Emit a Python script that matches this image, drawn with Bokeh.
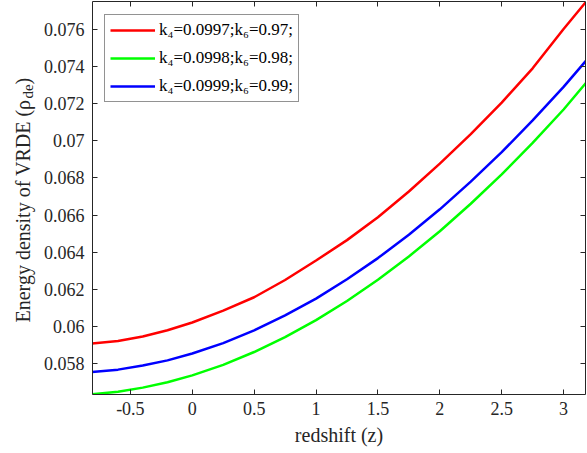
from bokeh.plotting import figure
from bokeh.layouts import row
from bokeh.models import Range1d, FixedTicker, LinearAxis, Legend, LegendItem, Label
from bokeh.embed import file_html
from bokeh.resources import INLINE

# ---- data ----
z = [-0.81, -0.6, -0.4, -0.2, 0.0, 0.25, 0.5, 0.75, 1.0, 1.25, 1.5, 1.75, 2.0, 2.25, 2.5, 2.75, 3.0, 3.18]
rho_k097 = [0.05908, 0.05921, 0.05946, 0.05979, 0.06021, 0.06085, 0.06157, 0.06250, 0.06355, 0.06465,
            0.06588, 0.06727, 0.06877, 0.07036, 0.07206, 0.07391, 0.07603, 0.07748]
rho_k098 = [0.05634, 0.05648, 0.05670, 0.05699, 0.05736, 0.05793, 0.05862, 0.05942, 0.06034, 0.06137,
            0.06251, 0.06377, 0.06513, 0.06661, 0.06819, 0.06989, 0.07169, 0.07312]
rho_k099 = [0.05754, 0.05767, 0.05789, 0.05817, 0.05854, 0.05910, 0.05979, 0.06059, 0.06150, 0.06254,
            0.06368, 0.06494, 0.06631, 0.06780, 0.06939, 0.07110, 0.07291, 0.07431]
series_labels = ["k\u2084=0.0997;k\u2086=0.97;", "k\u2084=0.0998;k\u2086=0.98;", "k\u2084=0.0999;k\u2086=0.99;"]
series_colors = ["#ff0000", "#00ff00", "#0000ff"]

x_ticks = [-0.5, 0, 0.5, 1, 1.5, 2, 2.5, 3]
x_tick_labels = ["-0.5", "0", "0.5", "1", "1.5", "2", "2.5", "3"]
y_ticks = [0.058, 0.06, 0.062, 0.064, 0.066, 0.068, 0.07, 0.072, 0.074, 0.076]
y_tick_labels = ["0.058", "0.06", "0.062", "0.064", "0.066", "0.068", "0.07", "0.072", "0.074", "0.076"]

x_label = "redshift (z)"
y_label_main = "Energy density of VRDE (\u03c1"
y_label_sub = "de"
y_label_end = ")"

FONT = "Liberation Serif"
AX = "#262626"
LAB_W = 40

# ---- main plot ----
p = figure(width=587 - LAB_W, height=453, output_backend="svg", toolbar_location=None,
           x_range=Range1d(-0.806, 3.177), y_range=Range1d(0.05633, 0.07751),
           min_border_left=91 - LAB_W, min_border_right=2, min_border_top=1, min_border_bottom=59,
           x_axis_type=None, y_axis_type=None)
p.grid.visible = False
p.outline_line_color = None
p.background_fill_color = "white"
p.border_fill_color = "white"


def style(ax, ticks, labels, show):
    ax.ticker = FixedTicker(ticks=ticks)
    ax.major_label_overrides = {t: (l if show else "") for t, l in zip(ticks, labels)}
    ax.minor_tick_line_color = None
    ax.major_tick_in = 5
    ax.major_tick_out = 0
    ax.axis_line_color = AX
    ax.major_tick_line_color = AX
    ax.major_label_text_color = AX
    ax.major_label_text_font = FONT
    if show:
        ax.major_label_text_font_size = "18px"
    else:
        ax.major_label_text_font_size = "0px"
        ax.major_label_standoff = 0


xb = LinearAxis()
style(xb, x_ticks, x_tick_labels, True)
xb.major_label_standoff = 7
xb.axis_label = x_label
xb.axis_label_text_font = FONT
xb.axis_label_text_font_size = "20px"
xb.axis_label_text_font_style = "normal"
xb.axis_label_text_color = AX
xb.axis_label_standoff = 6
p.add_layout(xb, "below")

yl = LinearAxis()
style(yl, y_ticks, y_tick_labels, True)
yl.major_label_standoff = 8
p.add_layout(yl, "left")

xt = LinearAxis()
style(xt, x_ticks, x_tick_labels, False)
p.add_layout(xt, "above")

yr = LinearAxis()
style(yr, y_ticks, y_tick_labels, False)
p.add_layout(yr, "right")

renderers = []
for ys, c in zip([rho_k097, rho_k098, rho_k099], series_colors):
    renderers.append(p.line(z, ys, line_color=c, line_width=2.5))

legend = Legend(items=[LegendItem(label=l, renderers=[r]) for l, r in zip(series_labels, renderers)],
                location=(12, 292), margin=0, padding=5, spacing=8,
                glyph_width=45, glyph_height=20, label_height=20, label_standoff=4,
                label_text_font=FONT, label_text_font_size="17px", label_text_color="black",
                border_line_color=AX, border_line_width=1, background_fill_color="white",
                background_fill_alpha=1.0)
p.add_layout(legend, "center")

# ---- narrow strip holding the rotated y-axis title (with subscript) ----
# (its frame is aligned with the main plot's frame by the row layout)
lab = figure(width=LAB_W, height=453, output_backend="svg", toolbar_location=None,
             x_range=Range1d(0, LAB_W), y_range=Range1d(0, 453),
             min_border=0, x_axis_type=None, y_axis_type=None)
lab.grid.visible = False
lab.outline_line_color = None
lab.background_fill_color = "white"
lab.border_fill_color = "white"
common = dict(x_units="screen", y_units="screen", angle=90, angle_units="deg",
              text_font=FONT, text_color=AX, text_align="left", text_baseline="alphabetic")
lab.add_layout(Label(x=22, y=72, text=y_label_main, text_font_size="20px", **common))
lab.add_layout(Label(x=27, y=296, text=y_label_sub, text_font_size="15px", **common))
lab.add_layout(Label(x=22, y=310, text=y_label_end, text_font_size="20px", **common))

layout = row(lab, p, spacing=0)
open("out.html", "w").write(file_html(layout, INLINE))
